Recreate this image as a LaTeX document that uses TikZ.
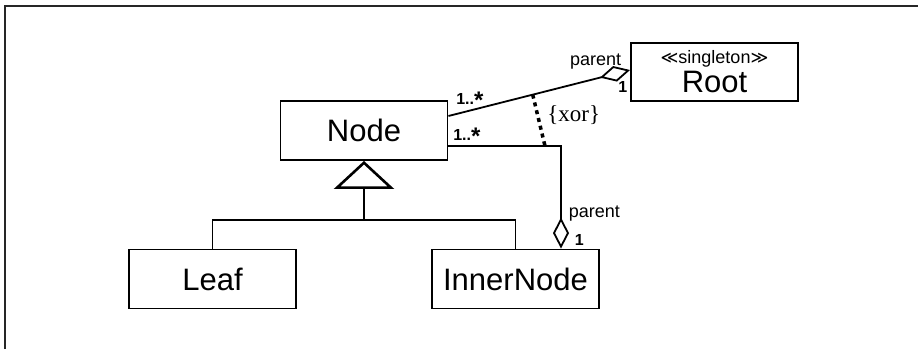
\documentclass[tikz,border=0pt]{standalone}
\usepackage{fontspec}
\setmainfont{Liberation Serif}
\setsansfont{Liberation Sans}
\newfontfamily\stereofont{DejaVu Sans}
\usetikzlibrary{arrows.meta,positioning}

\newcommand{\many}{1..\raisebox{-4pt}{\fontsize{24}{24}\selectfont*}}

\begin{document}
\begin{tikzpicture}[x=1pt,y=1pt,line width=1.8pt,node distance=148.5pt,
	cls/.style={draw,line width=1.9pt,minimum width=167pt,minimum height=59pt,inner sep=0pt,font=\sffamily\fontsize{31}{33}\selectfont},
	mult/.style={font=\sffamily\bfseries\fontsize{16}{18}\selectfont,inner sep=1pt},
	role/.style={font=\sffamily\fontsize{18}{20}\selectfont,inner sep=0pt},
	assoc/.style={-{Diamond[open,length=31pt,width=16pt,line width=1.8pt]}},
	gen/.style={-{Triangle[open,length=28pt,width=60pt,line width=2.6pt]}},
	xorline/.style={line width=3.5pt,dash pattern=on 4pt off 4pt}]
	\useasboundingbox (-364,130.5) rectangle (554,-218.5);
	% frame
	\draw[line width=2.2pt,black!85] (-359,-218.5) |- (554,124.5);
	% classes
	\node[cls]    (node)                                     {Node};
	\node[cls]    (leaf)  [below of=node,xshift=-151.5pt]    {Leaf};
	\node[cls]    (inner) [below of=node,xshift=151.5pt]     {InnerNode};
	\node[cls,minimum height=58pt,align=center]
	              (root)  [right of=node,xshift=202pt,yshift=58.5pt]
	              {{\fontsize{18}{20}\selectfont{\stereofont\fontsize{17}{20}\selectfont≪}singleton{\stereofont\fontsize{17}{20}\selectfont≫}}\\[-4pt]Root};
	% inheritance
	\coordinate[below=59pt of node.south] (split);
	\draw[gen] (split) -- (node.south);
	\draw (leaf.north) |- (split) -| (inner.north);
	% aggregations
	\draw[assoc] ([yshift=14.5pt]node.east)
		-- node[mult,pos=0,anchor=south west,xshift=6pt,yshift=6pt] {\many}
		   node[role,pos=1,anchor=base east,xshift=-8pt,yshift=5pt] {parent}
		   node[mult,pos=1,anchor=north east,xshift=-1pt,yshift=-10pt] {1}
		   coordinate[pos=0.464] (xa)
		([yshift=2pt]root.west);
	\draw[assoc] ([yshift=-15.5pt]node.east)
		-| node[mult,pos=0,anchor=south west,xshift=3pt,yshift=0pt] {\many}
		   node[role,pos=1,anchor=base west,xshift=7pt,yshift=31pt] {parent}
		   node[mult,pos=1,anchor=base west,xshift=12pt,yshift=3pt] {1}
		   coordinate[pos=0.5] (bend)
		([xshift=45.5pt]inner.north);
	\coordinate (xb) at ([xshift=-16pt]bend);
	\draw[xorline] (xa) -- node[pos=0.4,right=8pt,inner sep=0pt,font=\rmfamily\fontsize{23}{25}\selectfont] {\{xor\}} (xb);
\end{tikzpicture}
\end{document}
